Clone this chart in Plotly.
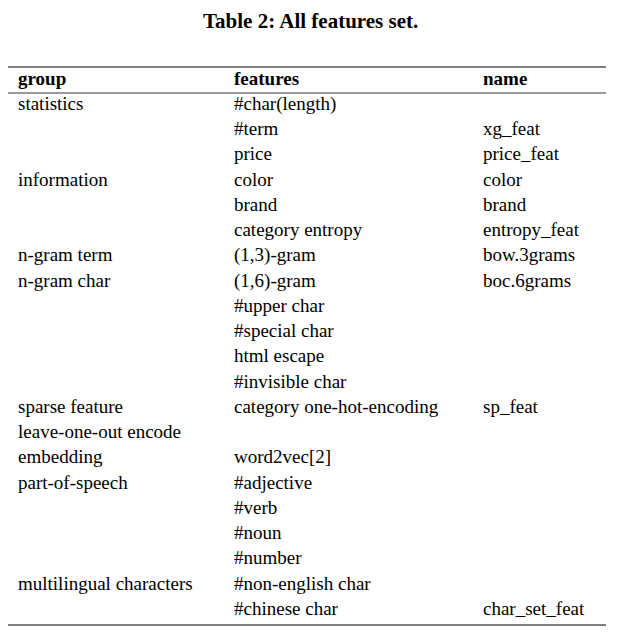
import plotly.graph_objects as go

# table content
groups = ["statistics", "", "", "information", "", "", "n-gram term", "n-gram char", "", "", "", "",
          "sparse feature", "leave-one-out encode", "embedding", "part-of-speech", "", "", "",
          "multilingual characters", ""]
features = ["#char(length)", "#term", "price", "color", "brand", "category entropy", "(1,3)-gram",
            "(1,6)-gram", "#upper char", "#special char", "html escape", "#invisible char",
            "category one-hot-encoding", "", "word2vec[2]", "#adjective", "#verb", "#noun", "#number",
            "#non-english char", "#chinese char"]
names = ["", "xg_feat", "price_feat", "color", "brand", "entropy_feat", "bow.3grams", "boc.6grams",
         "", "", "", "", "sp_feat", "", "", "", "", "", "", "", "char_set_feat"]
headers = ["group", "features", "name"]

W, H = 621, 641
dx, dy = -8, -7  # page offset correction
col_x = [18 + dx, 234 + dx, 483 + dx]
row0, step = 104 + dy, 25.25
font = "Liberation Serif"
fs = 19

fig = go.Figure()
rows_y = [row0 + step * i for i in range(len(groups))]
for cx, col in zip(col_x, [groups, features, names]):
    fig.add_trace(go.Scatter(x=[cx] * len(col), y=rows_y, text=col, mode="text",
                             textposition="middle right",
                             textfont=dict(family=font, size=fs, color="black"),
                             hoverinfo="skip"))
fig.add_trace(go.Scatter(x=col_x, y=[79 + dy] * 3, text=["<b>%s</b>" % h for h in headers], mode="text",
                         textposition="middle right",
                         textfont=dict(family=font, size=fs, color="black"), hoverinfo="skip"))

# rules
for yy, w in [(66, 1.2), (92, 0.8), (624, 1.2)]:
    fig.add_shape(type="line", x0=8 + dx, x1=606 + dx, y0=yy + dy, y1=yy + dy,
                  line=dict(color="black", width=w))

fig.add_annotation(x=310 + dx, y=20 + dy, text="<b>Table 2: All features set.</b>", showarrow=False,
                   font=dict(family=font, size=21, color="black"))

fig.update_layout(width=W, height=H, margin=dict(l=0, r=0, t=0, b=0), showlegend=False,
                  plot_bgcolor="white", paper_bgcolor="white",
                  xaxis=dict(range=[0, W], visible=False),
                  yaxis=dict(range=[H, 0], visible=False))

fig.write_html("out.html")
